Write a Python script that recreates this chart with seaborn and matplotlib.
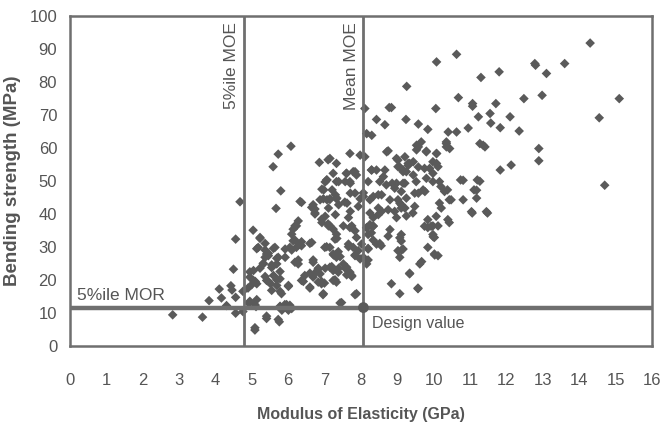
import matplotlib
matplotlib.use("Agg")
import matplotlib.pyplot as plt
import seaborn as sns
import pandas as pd

# (MOE GPa, MOR MPa)
points = [
    (2.83,9.5),(3.65,8.8),(3.83,13.8),(4.11,17.3),(4.17,14.6),(4.31,12.3),(4.43,18.3),(4.46,17.0),
    (4.5,23.3),(4.56,14.8),(4.56,32.4),(4.56,10.0),(4.76,10.5),(4.76,16.6),(4.68,43.7),
    (5.04,35.1),(5.23,32.9),(5.18,29.9),(5.14,29.5),(5.41,27.9),(5.37,26.9),(5.46,27.4),(5.32,24.9),
    (5.05,22.9),(5.05,19.9),(4.95,20.9),(5.14,18.9),(5.41,19.9),(5.55,23.8),(5.64,29.9),(5.69,24.9),
    (5.73,26.9),(5.6,21.4),(5.52,18.9),(5.69,18.4),(5.78,20.4),(5.82,15.9),(5.55,16.9),(5.92,29.4),
    (5.92,26.9),(6.01,18.4),(6.05,29.9),(6.1,33.9),(6.14,35.4),(6.23,36.4),(6.14,31.9),(6.23,29.9),
    (6.32,30.9),(6.37,30.4),(6.28,24.9),(6.19,25.4),(6.65,31.4),(6.69,25.4),(6.6,17.9),(6.37,19.9),
    (6.46,21.4),(6.69,20.9),(6.83,23.3),(6.88,21.9),(6.83,19.4),(6.92,18.9),(6.97,15.9),(7.01,29.9),
    (6.74,40.0),(6.92,38.4),(7.1,37.0),(5.78,11.9),(5.83,10.9),(5.96,12.3),(6.01,10.9),(6.1,11.4),
    (6.05,12.4),(5.41,8.4),(5.76,7.4),(5.09,4.9),(4.92,13.0),(5.12,12.0),
    (5.59,54.3),(5.73,58.1),(6.08,60.5),(5.8,47.0),(5.67,41.7),(6.37,43.5),(6.65,42.0),(6.74,41.5),
    (6.86,55.6),(7.1,56.4),(6.93,47.5),(7.02,49.7),(7.06,50.3),(6.97,44.6),(7.15,44.4),
    (8.11,71.9),(7.15,56.8),(7.33,55.3),(7.7,58.3),(7.98,57.8),(8.11,57.3),(7.61,52.3),(7.7,49.8),
    (7.79,52.8),(7.88,51.8),(7.84,46.3),(7.24,52.3),(7.33,49.8),(7.15,44.6),(7.33,44.6),(7.56,43.6),
    (7.98,44.6),(8.07,46.4),
    (7.15,36.4),(7.24,35.4),(7.33,33.9),(7.29,32.4),(7.15,29.9),(7.24,27.9),(7.33,26.9),(7.52,24.9),
    (7.15,23.9),(7.24,22.9),(7.38,22.4),(7.61,23.9),(7.7,22.4),(7.75,21.4),(7.24,19.9),(7.33,19.4),
    (7.88,15.9),(7.47,13.2),(7.66,38.9),(7.7,35.9),(7.84,34.9),(7.88,32.9),(7.66,30.9),(7.79,29.9),
    (7.93,28.9),(8.02,30.9),(7.84,27.4),(7.98,26.4),(8.07,26.9),
    (8.16,35.8),(8.25,36.8),(8.34,36.3),(8.2,33.8),(8.29,34.3),(8.43,30.9),(8.56,30.4),(8.2,29.4),
    (8.16,24.9),(8.8,35.3),(8.75,33.3),(9.07,32.8),(9.11,31.8),(9.02,28.9),(9.16,29.4),(9.07,26.9),
    (8.84,18.9),(9.07,15.9),(9.34,21.9),(9.57,17.4),(9.62,24.9),(9.84,29.9),(10.02,32.9),(9.84,35.9),
    (9.98,36.4),(10.12,36.4),(10.02,27.9),(10.12,27.4),(10.43,37.4),(8.98,38.9),(9.25,39.4),(8.34,38.9),
    (9.26,78.6),(10.08,86.0),(10.63,88.3),(11.3,81.3),(11.8,83.0),(12.78,85.5),(12.8,85.0),(13.1,82.5),
    (13.6,85.5),(14.3,91.7),(15.1,74.9),(14.55,69.1),(14.7,48.7),(8.78,72.2),(8.84,72.2),(8.43,68.6),
    (8.66,67.0),(9.24,68.6),(9.58,67.2),(9.84,65.6),(10.06,71.9),(10.68,75.2),(11.07,73.4),(11.07,72.6),
    (11.71,73.4),(11.23,69.4),(11.55,70.4),(11.57,67.5),(11.83,66.1),(12.1,69.4),(12.48,74.9),(12.98,75.9),
    (12.35,65.1),(10.4,64.8),(10.63,64.8),(10.95,66.0),(10.35,61.8),(10.35,60.3),(11.27,61.3),(11.41,60.3),
    (12.89,59.8),(12.89,56.1),(11.83,53.3),(12.13,54.8),(10.81,50.2),(11.27,49.9),(11.18,47.2),(11.04,40.7),
    (11.45,40.7),(8.75,59.1),(9.21,57.3),(9.58,60.3),(9.53,59.4),(9.8,59.0),(10.08,58.3),(10.08,55.3),
    (9.89,53.8),(9.58,54.2),(9.3,54.7),(9.02,56.3),(9.07,54.2),(9.16,53.3),(9.25,52.8),(9.34,55.3),
    (8.43,53.3),(8.62,51.3),(8.29,53.3),(8.2,49.8),(8.52,49.8),(8.7,48.8),(8.93,47.8),(8.98,49.3),
    (9.21,49.3),(9.44,51.8),(9.58,46.3),(9.76,46.8),(9.8,50.8),(9.98,49.8),(10.16,49.8),(10.3,46.8),
    (10.48,44.3),(8.48,45.8),(8.8,44.3),(9.07,43.3),(9.25,44.8),(9.11,41.8),(9.48,42.3),(10.16,43.3),
    (10.21,41.8),(10.81,44.3),(11.18,44.8),(8.25,44.3),
    (8.16,64.3),(8.3,63.8),(8.71,58.8),(8.3,53.3),(8.66,53.3),(7.6,52.3),(7.84,52.8),(7.07,50.3),
    (7.39,49.8),(7.57,49.8),(7.71,49.3),(6.98,47.3),(7.21,47.3),(7.3,45.8),(7.71,46.3),(8.07,45.3),
    (8.34,45.3),(8.57,45.8),(6.88,44.3),(7.07,44.3),(7.34,44.8),(6.33,43.8),(6.69,42.8),(7.11,41.8),
    (7.39,42.8),(7.62,43.3),(7.93,42.3),(8.48,41.8),(8.75,41.3),(6.74,40.3),(7.02,39.3),(7.3,39.8),
    (7.71,40.8),(8.25,40.3),(8.48,39.8),(8.57,40.8),(6.28,37.9),(6.19,36.4),(6.93,37.4),(7.11,36.4),
    (7.52,36.4),(7.75,36.4),(8.16,35.9),(8.34,36.4),
    (6.19,32.1),(6.37,31.6),(6.1,29.1),(6.28,26.1),(6.6,31.1),(6.69,26.1),(7.06,30.1),(7.34,32.6),
    (7.38,28.6),(7.43,27.1),(7.25,27.6),(7.66,30.1),(7.84,27.6),(6.83,23.6),(6.78,22.6),(6.6,22.1),
    (6.42,19.6),(6.6,17.6),(6.92,19.6),(7.0,19.1),(7.29,20.1),(7.02,23.6),(7.2,24.1),(7.39,23.6),
    (7.57,23.6),(7.61,21.6),(7.75,21.1),(6.01,18.1),(6.96,15.6),(7.84,15.6),(7.43,13.1),(5.91,12.6),
    (5.96,11.6),(8.2,26.1),(8.2,29.6),(8.34,32.1),(8.52,31.1),
    (9.53,60.8),(9.66,61.8),(9.8,58.8),(10.08,58.3),(10.35,61.3),(10.44,59.8),(11.36,60.8),(8.98,56.8),
    (9.02,54.3),(9.16,52.8),(9.3,55.3),(9.44,55.8),(9.75,53.8),(9.98,55.8),(10.12,54.3),(9.98,52.3),
    (8.86,49.3),(9.16,49.3),(9.52,49.8),(9.11,46.8),(9.48,46.3),(9.71,47.3),(10.2,48.3),(10.38,47.3),
    (10.74,50.3),(11.2,50.3),(11.11,47.3),(10.43,44.3),(9.02,44.3),(9.11,42.8),(9.21,41.8),(9.43,40.3),
    (8.93,40.8),(11.06,40.3),(11.48,40.3),(9.84,38.3),(10.07,39.3),(10.39,38.3),(9.75,36.3),(9.93,36.3),
    (9.98,33.8),(9.11,33.8),
    (4.95,22.5),(5.1,19.6),(4.9,17.6),(5.0,18.6),(5.23,23.6),(5.32,25.1),(5.37,29.1),(5.46,28.1),
    (5.6,29.6),(5.69,26.6),(5.55,24.6),(5.37,21.1),(5.78,22.6),(5.69,20.1),(5.46,19.6),(5.78,16.6),
    (5.14,14.1),(4.95,13.6),(5.09,12.6),(5.78,12.1),(5.96,12.6),(5.41,9.1),(5.73,8.1),(5.09,5.6),
    (5.23,32.6),(5.37,31.1),
    (9.12,29.1),(9.99,33.1),(10.03,27.6),(9.67,25.6),(9.34,22.1),(9.57,17.6),
]
moe = [p[0] for p in points]
mor = [p[1] for p in points]

moe_5pct = 4.78
moe_mean = 8.07
mor_5pct = 11.7
xticks = list(range(0, 17))
yticks = list(range(0, 101, 10))

grey = "#5a5a5a"
line_grey = "#6f6f6f"
text_grey = "#555555"

sns.set_style("white")
plt.rcParams["font.family"] = ["Liberation Sans", "DejaVu Sans"]

fig = plt.figure(figsize=(6.61, 4.28), dpi=100)
ax = fig.add_axes([0.1054, 0.191, 0.881, 0.7725])

df = pd.DataFrame({"MOE": moe, "MOR": mor})
sns.scatterplot(data=df, x="MOE", y="MOR", marker="D", s=24, color=grey,
                edgecolor="none", linewidth=0, ax=ax, zorder=3)

ax.axvline(moe_5pct, color=line_grey, lw=2.0, zorder=4)
ax.axvline(moe_mean, color=line_grey, lw=2.0, zorder=4)
ax.axhline(mor_5pct, color=line_grey, lw=3.2, zorder=4)
sns.scatterplot(x=[moe_mean], y=[mor_5pct], marker="o", s=60, color=grey,
                edgecolor="none", ax=ax, zorder=5)

ax.set_xlim(0, 16)
ax.set_ylim(0, 100)
ax.set_xticks(xticks)
ax.set_yticks(yticks)
ax.tick_params(axis="both", direction="in", length=4, width=1.2, color=line_grey,
               labelsize=12, labelcolor=text_grey)
ax.tick_params(axis="x", pad=19)
ax.tick_params(axis="y", pad=9)
for s in ax.spines.values():
    s.set_color(line_grey)
    s.set_linewidth(1.8)

ax.set_xlabel("Modulus of Elasticity (GPa)", fontsize=11.5, fontweight="bold",
              color=text_grey, labelpad=14)
ax.set_ylabel("Bending strength (MPa)", fontsize=13.5, fontweight="bold",
              color=text_grey, labelpad=6)

ax.text(moe_5pct - 0.12, 98, "5%ile MOE", rotation=90, ha="right", va="top",
        fontsize=12.5, color=text_grey)
ax.text(moe_mean - 0.12, 98, "Mean MOE", rotation=90, ha="right", va="top",
        fontsize=12.5, color=text_grey)
ax.text(0.2, mor_5pct + 1.5, "5%ile MOR", ha="left", va="bottom",
        fontsize=12.5, color=text_grey)
ax.text(moe_mean + 0.25, mor_5pct - 2.5, "Design value", ha="left", va="top",
        fontsize=11.5, color=text_grey)

fig.savefig("out.png", dpi=100)
